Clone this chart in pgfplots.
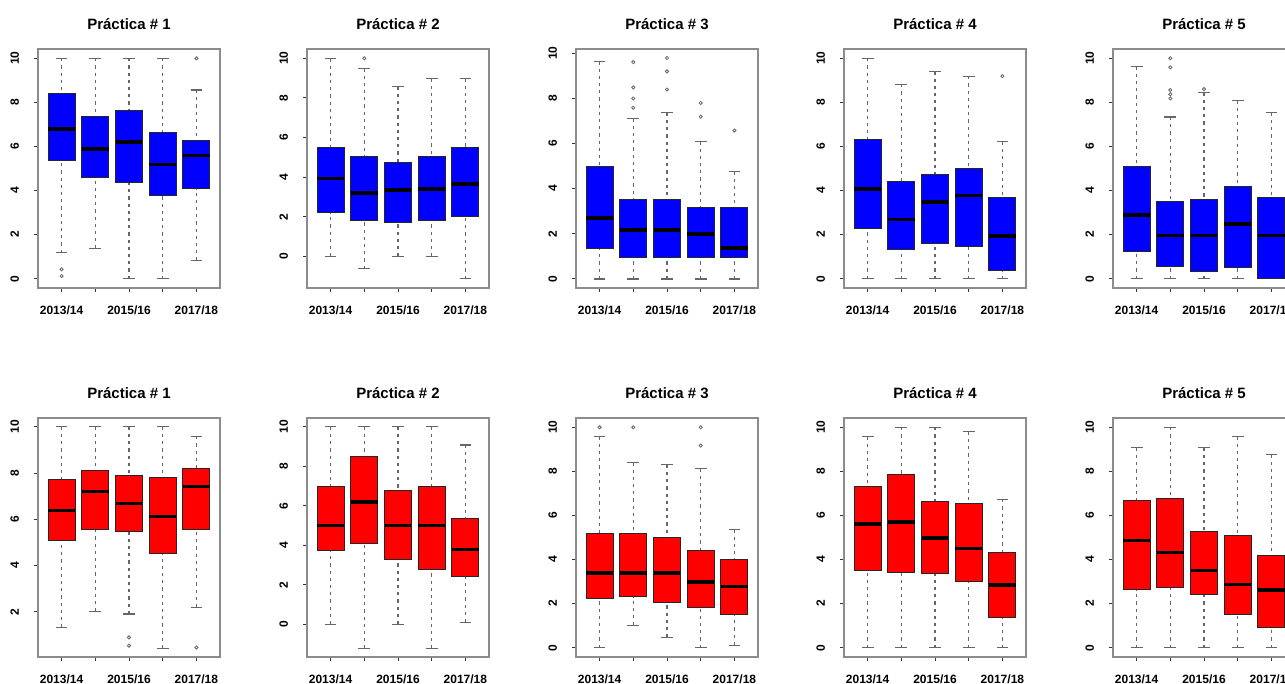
\documentclass[border=0pt]{standalone}
\usepackage{fontspec}
\setmainfont{Liberation Sans}
\usepackage{pgfplots}
\pgfplotsset{compat=1.18}
\usepgfplotslibrary{statistics}

\pgfplotsset{
  boxplot/draw/lower whisker/.code={%
    \draw[/pgfplots/boxplot/every whisker/.try, dash pattern=on 1.6pt off 2pt]
      (boxplot cs:\pgfplotsboxplotvalue{lower whisker}) -- (boxplot cs:\pgfplotsboxplotvalue{lower quartile});
    \draw[/pgfplots/boxplot/every whisker/.try]
      (boxplot whisker cs:\pgfplotsboxplotvalue{lower whisker},0) -- (boxplot whisker cs:\pgfplotsboxplotvalue{lower whisker},1);
  },
  boxplot/draw/upper whisker/.code={%
    \draw[/pgfplots/boxplot/every whisker/.try, dash pattern=on 1.6pt off 2pt]
      (boxplot cs:\pgfplotsboxplotvalue{upper whisker}) -- (boxplot cs:\pgfplotsboxplotvalue{upper quartile});
    \draw[/pgfplots/boxplot/every whisker/.try]
      (boxplot whisker cs:\pgfplotsboxplotvalue{upper whisker},0) -- (boxplot whisker cs:\pgfplotsboxplotvalue{upper whisker},1);
  },
  panel/.style={
    scale only axis, width=91pt, height=119.5pt, anchor=north west,
    xmin=0.3, xmax=5.7, xtick={1,2,3,4,5},
    xticklabels={2013/14,,2015/16,,2017/18},
    ytick={0,2,4,6,8,10},
    /pgf/number format/assume math mode=true,
    tick pos=left, tick align=outside, major tick length=2pt,
    axis line style={draw=black!45, line width=0.9pt},
    tick style={black!80, line width=0.5pt},
    ticklabel style={font=\bfseries\fontsize{6}{7}\selectfont},
    yticklabel style={xshift=-4pt, rotate=90, anchor=south},
    xticklabel style={yshift=-3.5pt},
    title style={font=\bfseries\fontsize{7.5}{9}\selectfont},
    boxplot/draw direction=y,
    boxplot/box extend=0.8, boxplot/whisker extend=0.35,
    boxplot/every median/.style={line width=1.8pt, draw=black},
    boxplot/every whisker/.style={line width=0.6pt, draw=black!60},
  },
  fillc/.style={boxplot/every box/.style={fill=#1, draw=black!85, line width=0.5pt}},
  bxp/.style={draw=black, line width=0.4pt, mark=o, mark size=0.8pt, mark options={solid, draw=black!60, line width=0.4pt}},
}
\definecolor{rblue}{RGB}{0,0,255}
\definecolor{rred}{RGB}{255,0,0}
\newcommand{\bx}[7]{\addplot[bxp, boxplot prepared={draw position=#1, lower whisker=#2, lower quartile=#3, median=#4, upper quartile=#5, upper whisker=#6}] coordinates {#7};}

\begin{document}
\begin{tikzpicture}
\path[use as bounding box] (0,0) rectangle (642.5pt,-342pt);
\clip (0,0) rectangle (642.5pt,-342pt);

% ---------- top row (blue) ----------
\begin{axis}[panel, fillc=rblue, at={(19pt,-24.5pt)}, ymin=-0.42, ymax=10.42, title={Práctica \# 1}]
\bx{1}{1.18}{5.37}{6.78}{8.41}{10}{(0,0.43) (0,0.12)}
\bx{2}{1.37}{4.60}{5.89}{7.37}{10}{}
\bx{3}{0}{4.38}{6.20}{7.65}{10}{}
\bx{4}{0}{3.76}{5.18}{6.63}{10}{}
\bx{5}{0.82}{4.09}{5.59}{6.29}{8.56}{(0,10)}
\end{axis}

\begin{axis}[panel, fillc=rblue, at={(153.5pt,-24.5pt)}, ymin=-1.6, ymax=10.47, title={Práctica \# 2}]
\bx{1}{0}{2.20}{3.92}{5.52}{10}{}
\bx{2}{-0.63}{1.79}{3.19}{5.03}{9.49}{(0,10)}
\bx{3}{0}{1.69}{3.34}{4.74}{8.57}{}
\bx{4}{0}{1.79}{3.41}{5.03}{8.98}{}
\bx{5}{-1.14}{1.99}{3.66}{5.52}{8.98}{}
\end{axis}

\begin{axis}[panel, fillc=rblue, at={(288pt,-24.5pt)}, ymin=-0.40, ymax=10.18, title={Práctica \# 3}]
\bx{1}{0}{1.37}{2.69}{4.97}{9.63}{}
\bx{2}{0}{0.97}{2.18}{3.52}{7.10}{(0,9.6) (0,8.48) (0,7.99) (0,7.58)}
\bx{3}{0}{0.97}{2.18}{3.52}{7.36}{(0,9.78) (0,9.19) (0,8.39)}
\bx{4}{0}{0.97}{1.99}{3.16}{6.09}{(0,7.79) (0,7.18)}
\bx{5}{0}{0.97}{1.37}{3.16}{4.76}{(0,6.57)}
\end{axis}

\begin{axis}[panel, fillc=rblue, at={(422pt,-24.5pt)}, ymin=-0.42, ymax=10.42, title={Práctica \# 4}]
\bx{1}{0}{2.26}{4.08}{6.31}{10}{}
\bx{2}{0}{1.34}{2.69}{4.43}{8.82}{}
\bx{3}{0}{1.60}{3.48}{4.72}{9.40}{}
\bx{4}{0}{1.44}{3.77}{4.98}{9.19}{}
\bx{5}{0}{0.38}{1.95}{3.68}{6.21}{(0,9.19)}
\end{axis}

\begin{axis}[panel, fillc=rblue, at={(556.5pt,-24.5pt)}, ymin=-0.42, ymax=10.42, title={Práctica \# 5}]
\bx{1}{0}{1.24}{2.90}{5.08}{9.62}{}
\bx{2}{0}{0.56}{1.97}{3.50}{7.34}{(0,10) (0,9.59) (0,8.56) (0,8.37) (0,8.18)}
\bx{3}{0}{0.35}{1.97}{3.59}{8.44}{(0,8.6)}
\bx{4}{0}{0.50}{2.49}{4.20}{8.09}{}
\bx{5}{0}{0.00}{1.97}{3.68}{7.53}{}
\end{axis}

% ---------- bottom row (red) ----------
\begin{axis}[panel, fillc=rred, at={(19pt,-209pt)}, ymin=0.05, ymax=10.38, title={Práctica \# 1}]
\bx{1}{1.33}{5.10}{6.38}{7.74}{10}{}
\bx{2}{2.01}{5.58}{7.20}{8.10}{10}{}
\bx{3}{1.91}{5.48}{6.68}{7.90}{10}{(0,0.9) (0,0.54)}
\bx{4}{0.43}{4.52}{6.13}{7.80}{10}{}
\bx{5}{2.20}{5.58}{7.42}{8.20}{9.59}{(0,0.46)}
\end{axis}

\begin{axis}[panel, fillc=rred, at={(153.5pt,-209pt)}, ymin=-1.66, ymax=10.45, title={Práctica \# 2}]
\bx{1}{0}{3.76}{5.01}{7.00}{10}{}
\bx{2}{-1.23}{4.07}{6.18}{8.50}{10}{}
\bx{3}{0}{3.30}{5.01}{6.76}{10}{}
\bx{4}{-1.23}{2.79}{5.01}{7.00}{10}{}
\bx{5}{0.10}{2.44}{3.78}{5.38}{9.08}{}
\end{axis}

\begin{axis}[panel, fillc=rred, at={(288pt,-209pt)}, ymin=-0.42, ymax=10.42, title={Práctica \# 3}]
\bx{1}{0}{2.23}{3.38}{5.20}{9.58}{(0,10)}
\bx{2}{1.00}{2.32}{3.38}{5.20}{8.41}{(0,10)}
\bx{3}{0.47}{2.05}{3.38}{5.02}{8.30}{}
\bx{4}{0}{1.81}{2.97}{4.40}{8.13}{(0,10) (0,9.17)}
\bx{5}{0.12}{1.50}{2.78}{4.00}{5.37}{}
\end{axis}

\begin{axis}[panel, fillc=rred, at={(422pt,-209pt)}, ymin=-0.42, ymax=10.42, title={Práctica \# 4}]
\bx{1}{0}{3.50}{5.60}{7.30}{9.58}{}
\bx{2}{0}{3.43}{5.69}{7.88}{10}{}
\bx{3}{0}{3.38}{4.98}{6.62}{10}{}
\bx{4}{0}{2.99}{4.51}{6.56}{9.79}{}
\bx{5}{0}{1.35}{2.85}{4.31}{6.74}{}
\end{axis}

\begin{axis}[panel, fillc=rred, at={(556.5pt,-209pt)}, ymin=-0.42, ymax=10.42, title={Práctica \# 5}]
\bx{1}{0}{2.63}{4.87}{6.66}{9.07}{}
\bx{2}{0}{2.75}{4.32}{6.75}{10}{}
\bx{3}{0}{2.40}{3.50}{5.28}{9.07}{}
\bx{4}{0}{1.49}{2.87}{5.07}{9.58}{}
\bx{5}{0}{0.90}{2.63}{4.17}{8.76}{}
\end{axis}
\end{tikzpicture}
\end{document}
